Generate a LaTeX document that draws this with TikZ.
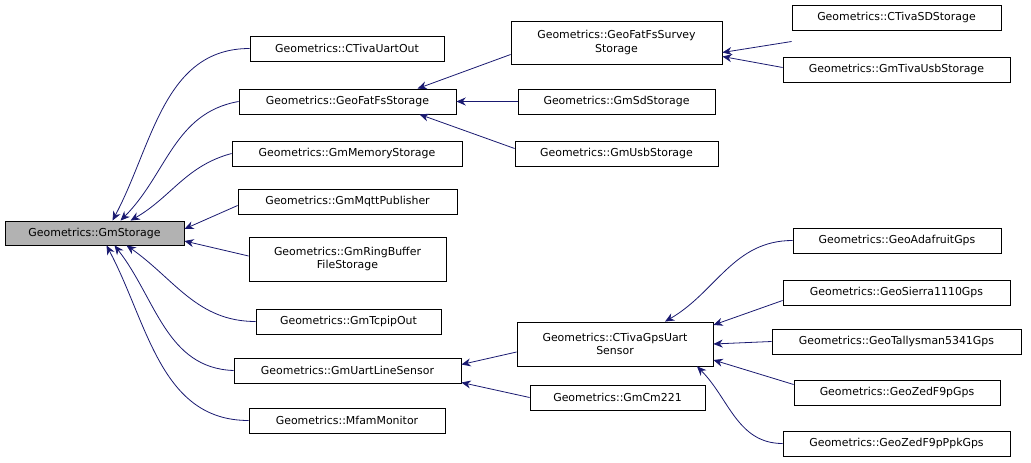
\documentclass[tikz,border=0pt]{standalone}
\usepackage{fontspec}
\setmainfont{DejaVu Sans}
\usetikzlibrary{arrows.meta,calc}
\definecolor{edgec}{HTML}{191970}
\newcommand\bx[6]{\node[box,minimum width=#4*0.75pt,minimum height=#5*0.75pt] (#1) at (#2,-#3) {#6};}
\begin{document}
\begin{tikzpicture}[x=0.75pt,y=0.75pt,
  box/.style={draw=black,fill=white,inner sep=0pt,align=center,font=\fontsize{8.2}{10}\selectfont,line width=0.6pt},
  arr/.style={{Stealth[length=7pt,width=6pt]}-,draw=edgec,line width=0.6pt}]
\useasboundingbox (0,0) rectangle (1031,-463);
\bx{st}{94.5}{233}{179}{24}{Geometrics::GmStorage}
\node[box,fill=black!30,minimum width=179*0.75pt,minimum height=24*0.75pt] at (st) {Geometrics::GmStorage};
\bx{uart}{347}{48.5}{194}{25}{Geometrics::CTivaUartOut}
\bx{fat}{347.5}{101.5}{217}{25}{Geometrics::GeoFatFsStorage}
\bx{mem}{347}{153.5}{230}{25}{Geometrics::GmMemoryStorage}
\bx{mqtt}{347.5}{201.5}{219}{25}{Geometrics::GmMqttPublisher}
\bx{ring}{347.5}{259}{197}{44}{Geometrics::GmRingBuffer\\FileStorage}
\bx{tcp}{348.5}{321.5}{185}{25}{Geometrics::GmTcpipOut}
\bx{uls}{347.5}{370.5}{227}{25}{Geometrics::GmUartLineSensor}
\bx{mfam}{347}{420.5}{196}{25}{Geometrics::MfamMonitor}
\bx{surv}{616.5}{42.5}{211}{43}{Geometrics::GeoFatFsSurvey\\Storage}
\bx{sd}{616.5}{101.5}{197}{25}{Geometrics::GmSdStorage}
\bx{usb}{616.5}{153.5}{203}{25}{Geometrics::GmUsbStorage}
\bx{gps}{615}{344}{196}{44}{Geometrics::CTivaGpsUart\\Sensor}
\bx{cm}{617.5}{397.5}{175}{25}{Geometrics::GmCm221}
\bx{tsd}{896.5}{17.5}{209}{25}{Geometrics::CTivaSDStorage}
\bx{tusb}{896.5}{69.5}{227}{25}{Geometrics::GmTivaUsbStorage}
\bx{ada}{897}{240.5}{208}{25}{Geometrics::GeoAdafruitGps}
\bx{sie}{896.5}{292.5}{227}{25}{Geometrics::GeoSierra1110Gps}
\bx{tal}{896.5}{341.5}{249}{25}{Geometrics::GeoTallysman5341Gps}
\bx{zed}{897}{392.5}{206}{25}{Geometrics::GeoZedF9pGps}
\bx{ppk}{896.5}{443.5}{227}{25}{Geometrics::GeoZedF9pPpkGps}
% GmStorage edges
\draw[arr] ($(st.north)+(18,0)$) to[out=62,in=180] (uart.west);
\draw[arr] ($(st.north)+(26,0)$) to[out=45,in=190] (fat.west);
\draw[arr] ($(st.north)+(36,0)$) to[out=30,in=195] (mem.west);
\draw[arr] ($(st.east)+(0,4)$) -- ($(mqtt.west)+(0,-4)$);
\draw[arr] ($(st.east)+(0,-8)$) -- ($(ring.west)+(0,3)$);
\draw[arr] ($(st.south)+(32,0)$) to[out=-35,in=180] (tcp.west);
\draw[arr] ($(st.south)+(20,0)$) to[out=-52,in=178] (uls.west);
\draw[arr] ($(st.south)+(12,0)$) to[out=-62,in=180] (mfam.west);
% GeoFatFs
\draw[arr] ($(fat.north)+(70,0)$) -- ($(surv.west)+(0,-12)$);
\draw[arr] (fat.east) -- (sd.west);
\draw[arr] ($(fat.south)+(72,0)$) -- ($(usb.west)+(0,5)$);
% Survey
\draw[arr] ($(surv.east)+(0,-10)$) -- ($(tsd.west)+(0,-24)$);
\draw[arr] ($(surv.east)+(0,-14)$) -- ($(tusb.west)+(0,2)$);
% UartLine
\draw[arr] ($(uls.east)+(0,6)$) -- ($(gps.west)+(0,-8)$);
\draw[arr] ($(uls.east)+(0,-12)$) -- ($(cm.west)+(0,0)$);
% GpsUart
\draw[arr] ($(gps.north)+(50,0)$) to[out=30,in=180] (ada.west);
\draw[arr] ($(gps.east)+(0,19)$) -- ($(sie.west)+(0,-8)$);
\draw[arr] (gps.east) -- (tal.west);
\draw[arr] ($(gps.east)+(0,-16)$) -- ($(zed.west)+(0,8)$);
\draw[arr] ($(gps.south)+(82,0)$) to[out=-45,in=180] (ppk.west);
\end{tikzpicture}
\end{document}
